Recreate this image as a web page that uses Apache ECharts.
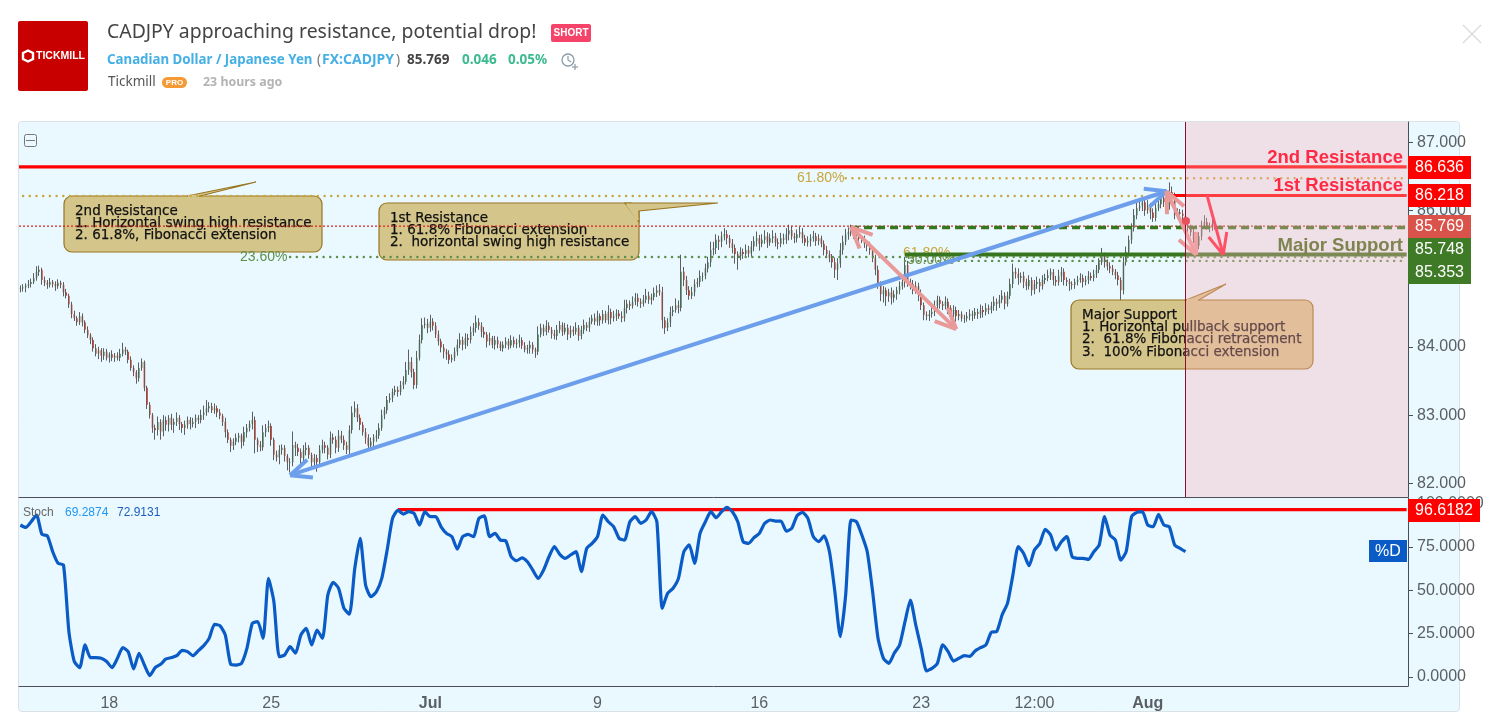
<!DOCTYPE html>
<html>
<head>
<meta charset="utf-8">
<title>CADJPY</title>
<script src="https://cdn.jsdelivr.net/npm/echarts@6/dist/echarts.min.js"></script>
<style>
html,body{margin:0;padding:0;background:#fff;}
#chart{width:1504px;height:716px;}
</style>
</head>
<body>
<div id="chart"></div>
<script>
// price closes
const closes = [
84.86,84.87,84.90,84.92,84.95,85.01,85.10,85.13,84.98,84.94,
84.91,84.95,84.92,84.89,84.94,84.91,84.80,84.75,84.62,84.48,
84.42,84.36,84.45,84.36,84.25,84.17,84.10,83.98,83.90,83.95,
83.87,83.93,83.84,83.89,83.84,83.87,83.84,83.90,83.96,83.93,
83.81,83.69,83.63,83.54,83.69,83.78,83.40,83.15,83.00,82.81,
82.78,82.90,82.76,82.93,82.86,82.96,82.86,82.90,82.96,82.87,
82.81,82.86,82.93,82.87,82.90,82.96,82.93,83.00,83.04,83.10,
83.13,83.07,83.10,83.04,82.99,82.90,82.75,82.64,82.55,82.61,
82.67,82.70,82.61,82.75,82.81,82.87,82.93,82.64,82.56,82.53,
82.75,82.81,82.84,82.64,82.42,82.38,82.49,82.52,82.40,82.31,
82.31,82.56,82.52,82.46,82.37,82.49,82.52,82.42,82.31,82.37,
82.31,82.49,82.56,82.52,82.42,82.67,82.64,82.52,82.70,82.64,
82.56,82.49,82.78,83.04,83.10,82.96,82.86,82.75,82.67,82.55,
82.61,82.67,82.70,82.81,83.00,83.07,83.22,83.25,83.34,83.37,
83.34,83.44,83.49,83.66,83.78,83.63,83.44,83.84,84.10,84.32,
84.34,84.28,84.37,84.31,84.18,84.08,83.99,83.93,83.89,83.81,
83.84,83.93,84.03,84.10,84.03,84.13,84.10,84.22,84.28,84.36,
84.31,84.22,84.18,84.08,84.13,84.03,84.10,84.04,83.98,84.03,
84.08,84.02,84.10,84.04,84.06,84.10,84.02,83.96,83.98,84.03,
83.96,83.93,84.18,84.28,84.22,84.31,84.25,84.19,84.16,84.25,
84.32,84.22,84.28,84.18,84.25,84.22,84.28,84.16,84.25,84.32,
84.28,84.37,84.42,84.37,84.45,84.39,84.48,84.39,84.51,84.42,
84.45,84.49,84.45,84.42,84.57,84.63,84.60,84.66,84.72,84.66,
84.63,84.69,84.75,84.69,84.73,84.79,84.83,84.80,84.39,84.28,
84.36,84.51,84.54,84.61,84.57,85.10,84.98,84.83,84.75,84.80,
84.92,84.95,85.04,85.04,85.15,85.24,85.42,85.45,85.57,85.54,
85.62,85.65,85.59,85.52,85.45,85.36,85.33,85.39,85.36,85.42,
85.37,85.47,85.55,85.59,85.51,85.57,85.62,85.53,85.59,85.62,
85.53,85.51,85.59,85.57,85.65,85.71,85.62,85.59,85.65,85.68,
85.59,85.53,85.55,85.59,85.62,85.55,85.59,85.51,85.42,85.36,
85.30,85.24,85.13,85.22,85.42,85.54,85.65,85.68,85.71,85.65,
85.62,85.59,85.57,85.51,85.48,85.42,85.30,85.13,84.91,84.77,
84.83,84.74,84.80,84.72,84.77,84.83,84.89,84.95,85.20,84.95,
84.92,84.83,84.89,84.76,84.61,84.47,84.45,84.48,84.51,84.60,
84.69,84.63,84.60,84.66,84.57,84.48,84.54,84.45,84.48,84.42,
84.42,84.45,84.48,84.46,84.51,84.48,84.54,84.51,84.57,84.54,
84.60,84.66,84.63,84.69,84.75,84.63,84.75,84.92,85.10,85.07,
85.01,85.04,84.95,84.89,84.98,84.83,84.92,84.95,84.89,84.98,
85.01,85.05,85.10,84.98,84.95,85.04,85.10,84.98,84.95,84.92,
84.91,84.95,84.98,85.01,84.95,84.98,85.04,85.01,85.07,85.13,
85.24,85.33,85.24,85.18,85.15,85.10,85.05,84.98,84.83,85.24,
85.39,85.57,85.74,85.93,86.03,86.06,86.12,86.00,86.06,85.97,
85.89,86.03,86.09,86.18,86.12,86.06,86.27,86.21,85.93,85.97,
85.95,85.92,85.77,85.74,85.68,85.57,85.48,85.62,85.77,85.83,
85.77,85.74,85.80,85.77];
// wick lengths above and below the body, in hundredths of a yen
const wickUp = [
4,5,3,6,5,7,8,6,3,5, 4,6,3,4,5,3,4,5,3,4, 5,3,6,4,3,5,3,4,6,5, 3,5,4,3,6,4,5,7,10,4,
3,5,4,3,8,5,2,3,4,3, 5,8,4,7,5,4,6,5,8,4, 3,6,5,4,6,5,4,8,10,12, 6,5,7,4,5,3,6,4,3,5,
6,4,3,8,6,5,12,5,3,6, 10,6,8,4,3,6,7,5,4,3, 6,20,5,6,5,7,8,4,3,6, 5,7,8,5,4,9,6,5,8,7,
6,5,7,9,10,6,5,4,6,5, 6,5,8,7,8,5,6,7,5,6, 5,6,8,12,18,7,5,10,8,10, 9,7,10,5,5,6,4,5,4,6,
5,6,8,10,5,7,6,8,7,10, 6,5,7,4,8,3,6,5,4,5, 6,4,7,5,6,8,4,5,5,6, 4,3,12,6,5,8,5,4,6,7,
6,4,7,5,6,5,8,4,6,8, 4,6,5,7,8,4,6,5,10,5, 8,6,5,7,12,6,5,8,7,6, 5,7,10,6,5,8,7,9,8,5,
6,8,6,10,7,25,7,6,6,8, 7,6,8,5,7,8,12,9,8,6, 7,9,6,5,6,5,4,7,5,8, 6,8,7,10,5,8,9,6,7,9,
5,6,8,7,9,8,6,5,7,8, 6,5,7,6,8,5,6,4,5,6, 5,6,7,8,10,9,8,7,8,5, 6,5,4,6,5,6,4,5,6,5,
6,4,5,7,6,5,7,8,12,6, 5,6,7,5,8,4,5,6,7,8, 6,5,4,8,5,4,7,5,6,4, 5,6,7,5,6,5,8,6,7,5,
6,8,5,7,8,5,6,8,12,6, 8,5,6,5,7,4,6,8,5,7, 6,8,5,4,6,9,7,5,4,5, 4,5,6,7,5,6,7,5,6,7,
6,12,5,4,6,5,4,5,4,8, 8,6,7,9,8,10,8,6,9,5, 6,8,6,8,7,5,14,8,5,6, 5,6,5,4,5,6,4,6,8,10,
6,5,8,4];
const wickDown = [
6,5,7,4,5,3,4,6,7,5, 6,4,5,7,4,5,6,4,5,6, 4,5,4,6,5,4,6,5,4,8, 9,6,4,7,5,6,4,5,4,5,
5,4,6,8,5,4,5,6,5,7, 14,8,12,7,9,10,8,12,6,9, 7,10,6,8,5,9,6,5,7,5, 6,4,5,7,5,6,8,5,9,6,
5,7,10,6,8,5,8,20,10,6, 5,7,6,9,8,6,10,7,8,12, 15,6,12,6,10,7,8,6,10,8, 14,6,5,8,7,5,6,8,6,5,
7,6,8,5,7,6,8,5,9,6, 5,7,6,5,4,6,5,4,6,5, 7,5,6,4,7,8,6,5,4,5, 5,8,6,7,5,6,7,10,8,6,
4,5,6,5,8,6,9,5,6,7, 6,8,5,9,6,5,7,6,4,5, 5,6,4,5,6,7,5,4,6,8, 6,9,5,4,6,5,4,7,5,6,
5,6,4,8,5,6,4,7,5,6, 5,6,4,5,6,8,5,4,6,9, 5,7,4,6,5,8,6,4,5,7, 6,4,5,6,7,5,6,5,12,9,
5,7,6,4,8,5,9,7,6,5, 6,5,7,8,5,6,7,8,9,12, 8,6,9,7,8,14,20,6,7,5, 6,5,7,8,10,5,6,8,5,7,
6,8,5,7,6,9,5,7,6,5, 7,5,6,8,5,7,6,5,8,6, 6,8,12,15,6,7,5,8,6,7, 6,7,5,6,8,7,6,8,6,10,
12,14,8,10,7,8,6,5,8,7, 8,6,5,9,7,8,6,7,5,6, 8,7,6,5,9,7,5,8,6,5, 7,5,6,8,5,7,6,8,5,6,
5,7,10,6,5,8,4,5,6,7, 10,7,9,6,5,8,6,7,9,5, 6,5,7,8,6,5,9,8,6,10, 7,6,5,4,8,5,6,4,5,6,
5,4,8,6,7,5,6,8,20,6, 5,4,6,5,6,4,7,8,5,10, 6,5,4,6,7,8,5,12,6,5, 6,8,5,7,6,5,8,5,6,4,
5,6,4,5];
// stochastic %D, one reading every second bar
const stochD = [
87.7,86.3,89.6,93.5,82.3,81.5,72.3,65.6,64.6,26.2,8.9,5.4,18.5,11.2,11.2,10.8,8.9,5.4,10.8,16.9,
14.6,4.6,13.7,6.9,0.8,5.4,7.3,10.4,11.2,12.3,15.4,14.6,12.3,15.2,18.1,22.3,30.4,29.6,24.2,7.3,
6.9,7.9,16.5,31,31.9,22.3,56.9,43.5,11.7,12.7,17.5,13.7,24.2,28.1,18.5,27.1,22.3,47.3,54.6,51.2,
39.6,36.2,62.7,80,53.1,46.3,49.2,56.9,73.3,91.5,96.2,94,95.4,94.4,87.7,95.4,92.5,92.5,86.7,82.9,
81,73.8,81,82.3,81,91.5,93,81,82.9,79,78.5,69.4,67.1,68.8,66.5,61.7,56.9,61.7,69.4,75.2,
70.8,68.5,70.4,72.3,60.8,74.2,77.1,81,93.5,89.6,86.7,80,79,89.6,92.5,88.7,90.6,95.4,89.6,39.6,
48.3,51.2,56.9,72.3,76.2,65.6,82.9,89.6,95.4,91.9,95.4,97.9,95.4,89.6,78.1,77.1,80.4,82.9,88.7,90.6,
90,90,84.2,85.8,93.1,95,91.5,81,78.1,81.5,72.3,49.2,23.3,47.3,90.6,89.6,81.9,72.3,49.2,22.3,
10.8,7.9,13.7,18.5,31.9,44.4,30,16.5,3.5,5,7.9,18.5,14.6,9.2,10.8,12.3,11.9,15,16.9,18.5,
25.8,26.2,35.8,42.5,58.8,75.2,71.3,64.2,73.3,77.1,85.2,81.9,73.3,78.1,81,69.4,68.5,68.5,67.9,72.3,
76.2,92.5,81.9,79,67.5,72.3,92.5,95,95.4,87.7,86.7,93.8,87.7,86.7,76.2,74.2,72.3];

const slotCount = 515;
const dateTicks = {33:'18',93:'25',152:'Jul',214:'9',274:'16',334:'23',376:'12:00',418:'Aug'};
const boldTicks = ['Jul','Aug'];
const priceTicks = [82,83,84,85,86,87];
const stochTicks = [0,25,50,75,100];
const priceRange = [81.8,87.295];
const stochRange = [-5.2,103.3];

// horizontal drawings on the price pane: first bar, last bar, price
const levels = [
	[0,514,86.636],[425,514,86.218],[306,514,86.47],[1,426,86.21],
	[0,514,85.769],[308,514,85.748],[328,514,85.353],[100,514,85.316],[328,514,85.26]
];
const levelNames = ['res','res','tan','tan','last','dash','solid','dot','dot'];
const stochLevels = [[140,514,96.6182]];
// arrows: first bar, price, last bar, price
const trendArrows = [[100,82.12,425,86.28],[308,85.755,347,84.26],[425,86.28,436,85.35],[440,86.22,446,85.35]];
const arrowNames = ['blue','pink','pink','red'];
const shadeStart = 432;

const levelStyle = {
	res:{stroke:'#ff0000',lineWidth:3.2},
	tan:{stroke:'#c9a63c',lineWidth:2.4,lineDash:[0.1,6.6],lineCap:'round'},
	last:{stroke:'#e01a14',lineWidth:1.2,lineDash:[2,2]},
	dash:{stroke:'#37761f',lineWidth:3.6,lineDash:[8,5]},
	solid:{stroke:'#37761f',lineWidth:4},
	dot:{stroke:'#5d8f4a',lineWidth:2.4,lineDash:[0.1,6.6],lineCap:'round'}
};
const arrowStyle = {
	blue:{color:'#6d9eeb',width:4,both:true},
	pink:{color:'#ea9999',width:4,both:true},
	red:{color:'#ff1f3d',width:3,both:false}
};

const candleData = closes.map((c,i) => {
	const o = i ? closes[i-1] : c;
	return [o,c,Math.min(o,c)-wickDown[i]/100,Math.max(o,c)+wickUp[i]/100];
});
const bodyData = closes.map((c,i) => [i,i ? closes[i-1] : c,c]);
const stochData = stochD.map((v,i) => [i*2,v]);
const xLabels = [];
for(let i = 0; i < slotCount; i++) {
	xLabels.push(dateTicks[i] || '');
}

function renderLevel(styles,names) {
	return function (params,api) {
		const a = api.coord([api.value(0),api.value(2)]);
		const b = api.coord([api.value(1),api.value(2)]);
		// lines that start at the first bar run up to the pane edge
		const left = api.value(0) === 0 ? params.coordSys.x : a[0];
		return {
			type:'line',
			shape:{x1:left,y1:a[1],x2:b[0],y2:b[1]},
			style:Object.assign({fill:null},styles[names[params.dataIndex]])
		};
	};
}
function head(from,to,st) {
	const ang = Math.atan2(to[1]-from[1],to[0]-from[0]);
	const size = 23;
	return [-1,1].map(s => ({
		type:'line',
		shape:{x1:to[0],y1:to[1],x2:to[0]-size*Math.cos(ang+s*0.42),y2:to[1]-size*Math.sin(ang+s*0.42)},
		style:{stroke:st.color,lineWidth:st.width,fill:null}
	}));
}
function renderArrow(params,api) {
	const st = arrowStyle[arrowNames[params.dataIndex]];
	const a = api.coord([api.value(0),api.value(1)]);
	const b = api.coord([api.value(2),api.value(3)]);
	let children = [{type:'line',shape:{x1:a[0],y1:a[1],x2:b[0],y2:b[1]},style:{stroke:st.color,lineWidth:st.width,fill:null}}];
	children = children.concat(head(a,b,st));
	if(st.both) {
		children = children.concat(head(b,a,st));
	}
	return {type:'group',children:children};
}
function renderBody(params,api) {
	const top = api.coord([api.value(0),api.value(1)]);
	const bot = api.coord([api.value(0),api.value(2)]);
	const down = api.value(2) < api.value(1);
	return {
		type:'rect',
		shape:{x:top[0]-0.8,y:Math.min(top[1],bot[1]),width:1.6,height:Math.max(Math.abs(bot[1]-top[1]),0.6)},
		style:{fill:down ? '#e2432e' : '#5f9f78'}
	};
}
function renderShade(params,api) {
	const p = api.coord([api.value(0),priceRange[1]]);
	const sys = params.coordSys;
	const x = Math.round(p[0])+0.5;
	return {
		type:'group',
		children:[
			{type:'rect',shape:{x:x,y:sys.y,width:sys.x+sys.width-x,height:sys.height},style:{fill:'rgba(253,175,184,0.35)'}},
			{type:'line',shape:{x1:x,y1:sys.y,x2:x,y2:sys.y+sys.height},style:{stroke:'#8a1030',lineWidth:1,fill:null}}
		]
	};
}

// text helper for the graphic layer
function txt(x,y,text,font,color,align,z) {
	return {type:'text',x:x,y:y,z:z === undefined ? 10 : z,silent:true,
		style:{text:text,font:font,fill:color,textAlign:align || 'left',textVerticalAlign:'middle'}};
}
function tag(x,y,w,h,bg,text) {
	return [
		{type:'rect',z:10,silent:true,shape:{x:x,y:y,width:w,height:h},style:{fill:bg}},
		txt(x+w/2,y+h/2+0.5,text,'16px "Liberation Sans"','#fff','center',11)
	];
}
function callout(r,tail,cover,lines,lx,ly,lh) {
	const fill = '#d4c68a', edge = '#9a7520';
	const out = [
		{type:'rect',z:3,silent:true,shape:{x:r[0],y:r[1],width:r[2],height:r[3],r:8},style:{fill:fill,stroke:edge,lineWidth:1.2}},
		{type:'polygon',z:3,silent:true,shape:{points:tail},style:{fill:fill,stroke:edge,lineWidth:1.2}},
		{type:'line',z:3,silent:true,shape:{x1:cover[0],y1:cover[1],x2:cover[2],y2:cover[3]},style:{stroke:fill,lineWidth:2.5}}
	];
	lines.forEach((s,i) => {
		const t = txt(lx,ly+i*lh,s,'13.5px "DejaVu Sans"','#111','left',3);
		t.style.stroke = '#111';
		t.style.lineWidth = 0.25;
		out.push(t);
	});
	return out;
}

const smallFont = '14px "Liberation Sans"';
const headerFont = '"Noto Sans"';
const bigFont = 'bold 18.5px "Liberation Sans"';
const graphics = [
	// panel
	{type:'rect',z:-1,silent:true,shape:{x:18.5,y:121.5,width:1441,height:590,r:3},style:{fill:'#e9f9ff',stroke:'#dbe2e6',lineWidth:1}},
	// header
	{type:'rect',silent:true,shape:{x:18,y:21,width:70,height:70,r:2},style:{fill:'#c80000'}},
	{type:'polygon',silent:true,shape:{points:[[23,53],[28,50.5],[33,53],[33,59],[28,61.5],[23,59]]},style:{fill:'none',stroke:'#fff',lineWidth:2.4}},
	txt(36,56.5,'TICKMILL','bold 10.5px "Liberation Sans"','#fff'),
	txt(107,32.5,'CADJPY approaching resistance, potential drop!','19.4px '+headerFont,'#444'),
	{type:'rect',silent:true,shape:{x:551,y:24,width:40,height:18,r:2},style:{fill:'#f5436a'}},
	txt(571,33.5,'SHORT','bold 10px "Liberation Sans"','#fff','center'),
	txt(107,60,'Canadian Dollar / Japanese Yen','bold 13.3px '+headerFont,'#45b0e6'),
	txt(317,60,'(','13.5px '+headerFont,'#777'),
	txt(322,60,'FX:CADJPY','bold 14px '+headerFont,'#45b0e6'),
	txt(396,60,')','13.5px '+headerFont,'#777'),
	txt(407,60,'85.769','bold 13.5px '+headerFont,'#444'),
	txt(462,60,'0.046','bold 13.5px '+headerFont,'#3dba8f'),
	txt(508,60,'0.05%','bold 13.5px '+headerFont,'#3dba8f'),
	{type:'circle',silent:true,shape:{cx:568,cy:60,r:6},style:{fill:'none',stroke:'#8a9aa5',lineWidth:1.3}},
	{type:'polyline',silent:true,shape:{points:[[568,56],[568,60],[571,62]]},style:{fill:'none',stroke:'#8a9aa5',lineWidth:1.2}},
	{type:'line',silent:true,shape:{x1:572,y1:67,x2:578,y2:67},style:{stroke:'#8a9aa5',lineWidth:1.2}},
	{type:'line',silent:true,shape:{x1:575,y1:64,x2:575,y2:70},style:{stroke:'#8a9aa5',lineWidth:1.2}},
	txt(108,82,'Tickmill','13.5px '+headerFont,'#555'),
	{type:'rect',silent:true,shape:{x:162,y:77,width:25,height:11,r:5.5},style:{fill:'#f59a34'}},
	txt(174.5,82.5,'PRO','bold 8px "Liberation Sans"','#fff','center'),
	txt(203,82,'23 hours ago','bold 12.4px '+headerFont,'#b3b3b3'),
	{type:'line',silent:true,shape:{x1:1463,y1:25,x2:1481,y2:43},style:{stroke:'#dcdcdc',lineWidth:1.5}},
	{type:'line',silent:true,shape:{x1:1481,y1:25,x2:1463,y2:43},style:{stroke:'#dcdcdc',lineWidth:1.5}},
	// collapse button and legend
	{type:'rect',silent:true,shape:{x:24.5,y:134.5,width:12,height:12,r:2},style:{fill:'none',stroke:'#777',lineWidth:1}},
	{type:'line',silent:true,shape:{x1:26,y1:140.5,x2:35,y2:140.5},style:{stroke:'#777',lineWidth:1}},
	txt(23,513,'Stoch','12px "Liberation Sans"','#666'),
	txt(65,513,'69.2874','12px "Liberation Sans"','#2196f3'),
	txt(117,513,'72.9131','12px "Liberation Sans"','#1f5cc0'),
	// drawing labels
	txt(797,178.5,'61.80%',smallFont,'#c9a63c'),
	txt(240,257.5,'23.60%',smallFont,'#5d8f4a'),
	txt(903,253.5,'61.80%',smallFont,'#c9a63c','left',4),
	txt(907,260.5,'50.00%',smallFont,'#6d8f50','left',4),
	txt(1403,158,'2nd Resistance',bigFont,'#ff2944','right'),
	txt(1403,186,'1st Resistance',bigFont,'#ff2944','right'),
	txt(1403,246,'Major Support',bigFont,'#7d8450','right')
].concat(
	callout([64,196,258,56],[[187,196],[256,182],[200,196]],[188,196,199,196],
		['2nd Resistance','1. Horizontal swing high resistance','2. 61.8%, Fibonacci extension'],75,211.5,12),
	callout([379,203,260,57],[[625,203],[718,203],[639,211],[639,222]],[627,204,638,220],
		['1st Resistance','1. 61.8% Fibonacci extension','2.  horizontal swing high resistance'],390,218.5,12.2),
	callout([1071,300,242,69],[[1186,300],[1226,284],[1199,300]],[1187,300,1198,300],
		['Major Support','1. Horizontal pullback support','2.  61.8% Fibonacci retracement','3.  100% Fibonacci extension'],1082,315.5,12.2),
	tag(1408,156,63,23,'#ff0000','86.636'),
	tag(1408,184,63,23,'#ff0000','86.218'),
	tag(1408,215,63,23,'#d9534a','85.769'),
	tag(1408,238,63,23,'#3f7a27','85.748'),
	tag(1408,261,63,23,'#3f7a27','85.353'),
	tag(1408,499,72,23,'#ff0000','96.6182'),
	tag(1369,540,38,22,'#0a5bc6','%D')
);
graphics.push({type:'circle',z:10,silent:true,shape:{cx:1186,cy:221,r:4},style:{fill:'#e8505b'}});

const axisColor = '#4a5055';
const labelFont = {color:'#5a5f63',fontSize:16,fontFamily:'Liberation Sans'};
const chart = echarts.init(document.getElementById('chart'));
chart.setOption({
	animation:false,
	tooltip:{show:false},
	graphic:{elements:graphics},
	grid:[
		{left:19,top:122,width:1389,height:375},
		{left:19,top:498,width:1389,height:188}
	],
	xAxis:[
		{type:'category',gridIndex:0,data:xLabels,axisLine:{onZero:false,lineStyle:{color:axisColor}},axisTick:{show:false},axisLabel:{show:false}},
		{type:'category',gridIndex:1,data:xLabels,
			axisLine:{onZero:false,lineStyle:{color:axisColor}},
			axisTick:{alignWithLabel:true,length:4,lineStyle:{color:axisColor},interval:(i) => !!dateTicks[i]},
			axisLabel:Object.assign({},labelFont,{
				margin:10,
				interval:(i) => !!dateTicks[i],
				formatter:(v) => boldTicks.indexOf(v) >= 0 ? '{b|'+v+'}' : v,
				rich:{b:{fontWeight:'bold',fontSize:16,color:'#5a5f63',fontFamily:'Liberation Sans'}}
			})}
	],
	yAxis:[
		{type:'value',gridIndex:0,position:'right',min:priceRange[0],max:priceRange[1],splitLine:{show:false},
			axisLine:{show:true,lineStyle:{color:axisColor}},
			axisTick:{show:true,length:5,lineStyle:{color:axisColor},customValues:priceTicks},
			axisLabel:Object.assign({},labelFont,{margin:9,padding:[3,0,0,0],customValues:priceTicks,formatter:(v) => v.toFixed(3)})},
		{type:'value',gridIndex:1,position:'right',min:stochRange[0],max:stochRange[1],splitLine:{show:false},
			axisLine:{show:true,lineStyle:{color:axisColor}},
			axisTick:{show:true,length:5,lineStyle:{color:axisColor},customValues:stochTicks},
			axisLabel:Object.assign({},labelFont,{margin:9,padding:[3,0,0,0],customValues:stochTicks,formatter:(v) => v.toFixed(4)})}
	],
	series:[
		{name:'CADJPY',type:'candlestick',xAxisIndex:0,yAxisIndex:0,z:2,silent:true,barWidth:1,data:candleData,
			itemStyle:{color:'#5e5e5e',color0:'#5e5e5e',borderColor:'#5e5e5e',borderColor0:'#5e5e5e',borderWidth:1}},
		{name:'bodies',type:'custom',xAxisIndex:0,yAxisIndex:0,z:2,silent:true,data:bodyData,renderItem:renderBody},
		{name:'levels',type:'custom',xAxisIndex:0,yAxisIndex:0,z:5,silent:true,data:levels,renderItem:renderLevel(levelStyle,levelNames)},
		{name:'arrows',type:'custom',xAxisIndex:0,yAxisIndex:0,z:6,silent:true,data:trendArrows,renderItem:renderArrow},
		{name:'shade',type:'custom',xAxisIndex:0,yAxisIndex:0,z:8,silent:true,data:[[shadeStart]],renderItem:renderShade},
		{name:'stochLevel',type:'custom',xAxisIndex:1,yAxisIndex:1,z:4,silent:true,data:stochLevels,renderItem:renderLevel(levelStyle,['res'])},
		{name:'%D',type:'line',xAxisIndex:1,yAxisIndex:1,z:5,silent:true,data:stochData,showSymbol:false,smooth:0.2,
			lineStyle:{color:'#0a5bc6',width:3.2,join:'round'}}
	]
});
window.onresize = chart.resize;
</script>
</body>
</html>
